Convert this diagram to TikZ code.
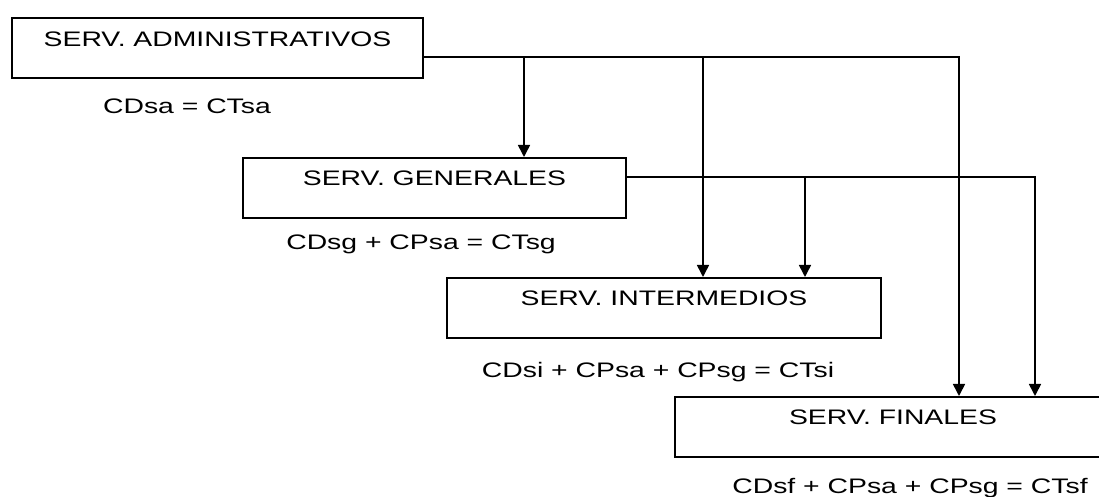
\documentclass[tikz,border=0pt]{standalone}
\usepackage{fontspec}
\setmainfont{Liberation Sans}[FakeStretch=1.35]
\usetikzlibrary{arrows.meta, positioning, calc}
\tikzset{
    servbox/.style={
        rectangle,
        draw=black,
        line width=1pt,
        inner sep=0pt,
        text height=14pt,
        text depth=16pt,
        font=\fontsize{10.5}{12}\selectfont,
    },
    costlabel/.style={
        inner sep=0pt,
        anchor=base,
        font=\fontsize{10.5}{12}\selectfont,
    },
    flow/.style={
        line width=0.8pt,
        -{Triangle[length=6pt, width=6pt]},
    },
}

\begin{document}
\begin{tikzpicture}[x=0.5pt, y=-0.5pt]
      \clip (0,0) rectangle (1099,497);
      \node[servbox, minimum width=205.5pt] (sa) at (217.5,48.5) {SERV. ADMINISTRATIVOS};
      \node[servbox, minimum width=191.5pt] (sg) at (434.5,188) {SERV. GENERALES};
      \node[servbox, minimum width=217pt] (si) at (664,308) {SERV. INTERMEDIOS};
      \node[servbox, minimum width=218pt] (sf) at (893,427) {SERV. FINALES};

      \node[costlabel] (cdsa) at (187,114) {CDsa = CTsa};
      \node[costlabel] (cdsg) at (421,250) {CDsg + CPsa = CTsg};
      \node[costlabel] (cdsi) at (658,378) {CDsi + CPsa + CPsg = CTsi};
      \node[costlabel] (cdsf) at (910,494) {CDsf + CPsa + CPsg = CTsf};

      % reparto de administrativos
      \coordinate (sacorner) at (959,57);
      \coordinate (sa2sg) at (524,57);
      \coordinate (sa2si) at (703,57);
      \draw[flow] (sa.east |- sacorner) -- (sacorner) -- (sacorner |- sf.north);
      \draw[flow] (sa2sg) -- (sa2sg |- sg.north);
      \draw[flow] (sa2si) -- (sa2si |- si.north);

      % reparto de generales
      \coordinate (sgcorner) at (1035,177);
      \coordinate (sg2si) at (805,177);
      \draw[flow] (sg.east |- sgcorner) -- (sgcorner) -- (sgcorner |- sf.north);
      \draw[flow] (sg2si) -- (sg2si |- si.north);
    \end{tikzpicture}
\end{document}
